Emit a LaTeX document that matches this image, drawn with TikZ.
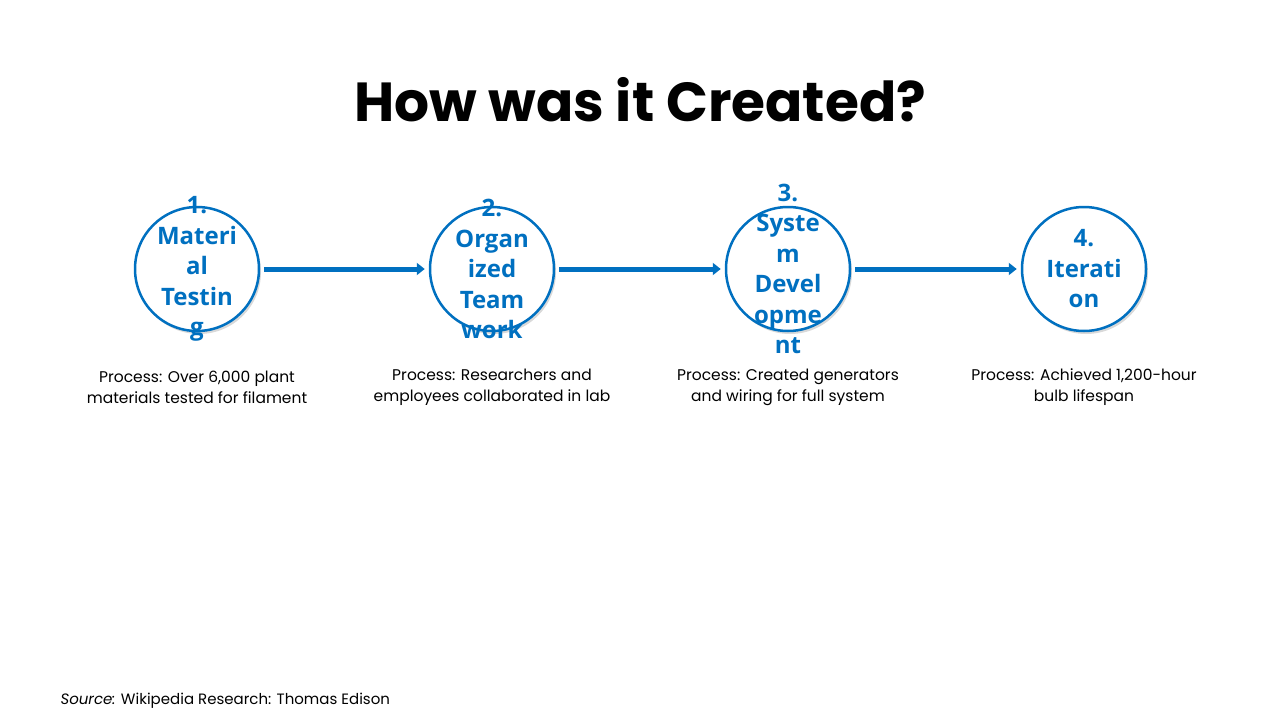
\documentclass[tikz,border=0pt]{standalone}
\usepackage{fontspec}
\setmainfont{Poppins}
\newfontfamily\circfont{Open Sans}
\usetikzlibrary{positioning,shadows}
\usetikzlibrary{arrows.meta}
\definecolor{stepblue}{RGB}{0,112,192}
\tikzset{
  stepcirc/.style={circle,draw=stepblue,line width=2.5pt,fill=white,minimum size=124pt,inner sep=0pt,
    drop shadow={shadow xshift=2pt,shadow yshift=-3pt,opacity=0.3}},
  steptext/.style={font=\circfont\bfseries\fontsize{24}{30.5}\selectfont,text=stepblue,align=center},
  desc/.style={font=\fontsize{15.5}{21}\selectfont,align=center},
  flow/.style={stepblue,line width=5pt,-{Triangle[length=8pt,width=12pt]},
    shorten <=4pt,shorten >=4pt}
}
\begin{document}
\begin{tikzpicture}[x=1pt,y=-1pt]
\useasboundingbox (0,0) rectangle (1280,720);
\node[font=\bfseries\fontsize{55}{66}\selectfont] (title) at (640,100) {How was it Created?};
% circles
\node[stepcirc] (s1) at (197,269) {};
\node[stepcirc] (s2) at (492,269) {};
\node[stepcirc] (s3) at (788,269) {};
\node[stepcirc] (s4) at (1084,269) {};
\node[steptext] at (s1) {1.\\Materi\\al\\Testin\\g};
\node[steptext] at (s2) {2.\\Organ\\ized\\Team\\work};
\node[steptext] at (s3) {3.\\Syste\\m\\Devel\\opme\\nt};
\node[steptext] at (s4) {4.\\Iterati\\on};
% connectors
\draw[flow] (s1) -- (s2);
\draw[flow] (s2) -- (s3);
\draw[flow] (s3) -- (s4);
% descriptions
\node[desc] (d1) at (197,387) {Process: Over 6,000 plant\\materials tested for filament};
\node[desc] (d2) at (492,387) {Process: Researchers and\\employees collaborated in lab};
\node[desc] (d3) at (788,387) {Process: Created generators\\and wiring for full system};
\node[desc] (d4) at (1084,387) {Process: Achieved 1,200-hour\\bulb lifespan};
\node[font=\fontsize{15}{20}\selectfont,anchor=west] (src) at (57,701) {\textit{Source:} Wikipedia Research: Thomas Edison};
\end{tikzpicture}
\end{document}
